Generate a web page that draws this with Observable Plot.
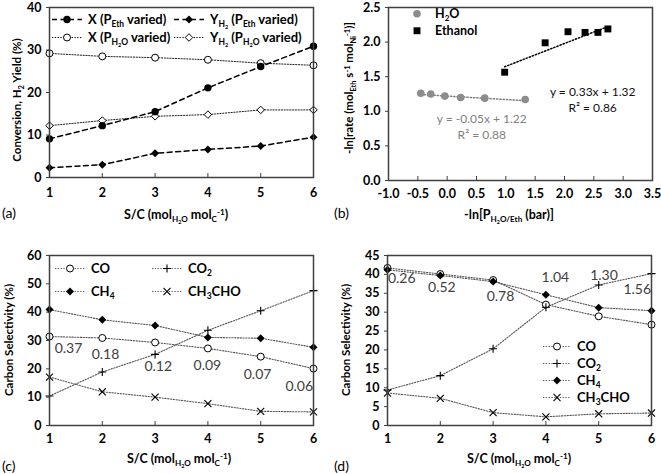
<!DOCTYPE html>
<html><head><meta charset="utf-8">
<script src="https://cdn.jsdelivr.net/npm/d3@7"></script>
<script src="https://cdn.jsdelivr.net/npm/@observablehq/plot@0.6"></script>
<style>
body{margin:0;background:#fff;}
#root{position:relative;width:661px;height:474px;background:#fff;font-family:Lato,"Open Sans",sans-serif;color:#000;overflow:hidden;}
.t{position:absolute;white-space:nowrap;transform:translate(-50%,-50%);font-weight:bold;font-size:12.5px;line-height:1;}
.rot{transform:translate(-50%,-50%) rotate(-90deg);}
.tag{position:absolute;transform:translate(0,-50%);font-size:14px;line-height:1;white-space:nowrap;}
sub,sup{font-size:65%;line-height:0;position:relative;vertical-align:baseline;}
sub{top:0.35em;} sup{top:-0.45em;}
.leg{position:absolute;display:flex;align-items:center;transform:translate(0,-50%);font-weight:bold;font-size:13px;white-space:nowrap;line-height:1;}
.leg svg{margin-right:6px;overflow:visible;}
</style></head><body><div id="root"></div>
<script>
// ---------- data ----------
const sc = [1, 2, 3, 4, 5, 6];
const scTicks = [1, 2, 3, 4, 5, 6];

// (a) conversion and H2 yield (%)
const convEth = [9.1, 12.2, 15.5, 21.1, 26.1, 30.9];
const yieldEth = [2.3, 3.0, 5.7, 6.6, 7.4, 9.5];
const convH2O = [29.2, 28.5, 28.2, 27.7, 26.9, 26.4];
const yieldH2O = [12.2, 13.4, 14.4, 14.8, 15.9, 15.9];
const aYTicks = [0, 10, 20, 30, 40];

// (b) -ln(rate) vs -ln(P)
const lnP_H2O = [-0.45, -0.28, -0.04, 0.23, 0.64, 1.33];
const lnRate_H2O = [1.26, 1.25, 1.22, 1.20, 1.19, 1.17];
const lnP_Eth = [0.98, 1.67, 2.06, 2.35, 2.57, 2.74];
const lnRate_Eth = [1.565, 1.99, 2.15, 2.14, 2.14, 2.19];
const fitH2O = [-0.05, 1.22];   // slope, intercept
const fitEth = [0.33, 1.32];
const eqH2OText = ["y = -0.05x + 1.22", "R² = 0.88"];
const eqH2OX = [0.59, 0.59];
const eqH2OY = [0.89, 0.65];
const eqEthText = ["y = 0.33x + 1.32", "R² = 0.86"];
const eqEthX = [2.48, 2.48];
const eqEthY = [1.27, 1.05];
const bXTicks = [-1, -0.5, 0, 0.5, 1, 1.5, 2, 2.5, 3, 3.5];
const bYTicks = [0, 0.5, 1, 1.5, 2, 2.5];

// (c) carbon selectivity (%)
const coC = [31.4, 30.9, 29.3, 27.2, 24.3, 20.1];
const co2C = [10.4, 18.9, 25.1, 33.6, 40.5, 47.6];
const ch4C = [40.9, 37.3, 35.3, 31.1, 30.8, 27.6];
const ch3choC = [17.1, 11.9, 10.0, 7.7, 5.0, 4.8];
const cLabels = ["0.37", "0.18", "0.12", "0.09", "0.07", "0.06"];
const cLabelX = [1.36, 2.06, 3.06, 3.99, 4.94, 5.73];
const cLabelY = [27.3, 24.9, 20.7, 21.0, 18.1, 13.9];
const cYTicks = [0, 10, 20, 30, 40, 50, 60];

// (d) carbon selectivity (%)
const coD = [41.7, 40.1, 38.5, 32.0, 28.9, 26.7];
const co2D = [9.4, 13.2, 20.3, 31.3, 37.2, 40.2];
const ch4D = [41.2, 39.7, 38.1, 34.6, 31.2, 30.4];
const ch3choD = [8.6, 7.2, 3.4, 2.3, 3.1, 3.3];
const dLabels = ["0.26", "0.52", "0.78", "1.04", "1.30", "1.56"];
const dLabelX = [1.27, 2.03, 3.14, 4.18, 5.10, 5.73];
const dLabelY = [39.0, 36.5, 34.2, 39.3, 39.6, 36.1];
const dYTicks = [0, 5, 10, 15, 20, 25, 30, 35, 40, 45];

// ---------- helpers ----------
const FONT = 'Lato, "Open Sans", sans-serif';
const AX = "#404040";
const root = document.getElementById("root");
const fmt1 = d => d.toFixed(1);
const fmt0 = d => String(d);

function panel({left, top, width, height, margin, x, y, marks}) {
  const [mt, mr, mb, ml] = margin;
  const ih = height - mt - mb;
  const p = Plot.plot({
    width, height, marginTop: mt, marginRight: mr, marginBottom: mb, marginLeft: ml,
    x: {domain: x.domain}, y: {domain: y.domain},
    style: {fontFamily: FONT, fontSize: "12px", background: "transparent", color: "#000", overflow: "visible"},
    marks: [
      Plot.axisY({ticks: y.ticks, tickFormat: y.fmt, tickSize: 3, tickPadding: 5, label: null, fontWeight: "bold", fontSize: 12.5, stroke: AX}),
      Plot.axisX({ticks: x.ticks, tickFormat: x.fmt, tickSize: 0, tickPadding: x.pad, label: null, fontWeight: "bold", fontSize: 12.5}),
      Plot.tickX(x.ticks, {x: d => d, insetTop: ih - 4, stroke: AX}),
      ...marks,
      Plot.frame({stroke: AX, strokeWidth: 1.5})
    ]
  });
  p.style.position = "absolute";
  p.style.left = left + "px";
  p.style.top = top + "px";
  root.appendChild(p);
}

const SYM = {circle: d3.symbolCircle, diamond2: d3.symbolDiamond2, plus: d3.symbolPlus, times: d3.symbolTimes, square: d3.symbolSquare};
function swatch({symbol, r, fill, stroke, sw = 1, dash, lineColor = "#000", lineWidth = 1, width = 30}) {
  const svg = d3.create("svg").attr("width", width).attr("height", 12);
  if (dash) svg.append("line").attr("x1", 0).attr("x2", width).attr("y1", 6).attr("y2", 6)
    .attr("stroke", lineColor).attr("stroke-width", lineWidth).attr("stroke-dasharray", dash);
  svg.append("path").attr("transform", `translate(${width / 2},6)`)
    .attr("d", d3.symbol(SYM[symbol], Math.PI * r * r)())
    .attr("fill", fill).attr("stroke", stroke || "none").attr("stroke-width", sw);
  return svg.node();
}
function legend(left, cy, sw, html, size) {
  const div = document.createElement("div");
  div.className = "leg";
  div.style.left = left + "px";
  div.style.top = cy + "px";
  if (size) div.style.fontSize = size + "px";
  div.appendChild(swatch(sw));
  const span = document.createElement("span");
  span.innerHTML = html;
  div.appendChild(span);
  root.appendChild(div);
}
function text(cls, cx, cy, html, extra) {
  const div = document.createElement("div");
  div.className = cls;
  div.style.left = cx + "px";
  div.style.top = cy + "px";
  div.innerHTML = html;
  if (extra) Object.assign(div.style, extra);
  root.appendChild(div);
}
function fitLine(xs, [a, b]) {
  const [x0, x1] = d3.extent(xs);
  return [{x: x0, y: a * x0 + b}, {x: x1, y: a * x1 + b}];
}

// ---------- styles ----------
const dashed = {stroke: "#000", strokeWidth: 1.5, strokeDasharray: "5,3.5"};
const dotted = {stroke: "#222", strokeWidth: 1, strokeDasharray: "1.3,1.5"};
const dottedG = {stroke: "#555", strokeWidth: 1.1, strokeDasharray: "1.3,1.5"};
const openCircle = {r: 3.5, fill: "white", stroke: "#000", strokeWidth: 1};
const fillCircle = {r: 3.7, fill: "#000"};
const fillDiamond = {symbol: "diamond2", r: 3.6, fill: "#000"};
const openDiamond = {symbol: "diamond2", r: 3.4, fill: "white", stroke: "#000", strokeWidth: 1};
const plusSym = {symbol: "plus", r: 2.7, fill: "none", stroke: "#000", strokeWidth: 1.1};
const timesSym = {symbol: "times", r: 3.3, fill: "none", stroke: "#000", strokeWidth: 1.1};

// ---------- (a) ----------
panel({
  left: 0, top: 0, width: 330, height: 200, margin: [7, 17, 23, 49],
  x: {domain: [1, 6], ticks: scTicks, fmt: fmt0, pad: 11},
  y: {domain: [0, 40], ticks: aYTicks, fmt: fmt0},
  marks: [
    Plot.line(sc, {x: sc, y: convH2O, ...dotted}),
    Plot.line(sc, {x: sc, y: yieldH2O, ...dotted}),
    Plot.line(sc, {x: sc, y: convEth, ...dashed}),
    Plot.line(sc, {x: sc, y: yieldEth, ...dashed}),
    Plot.dot(sc, {x: sc, y: convH2O, ...openCircle}),
    Plot.dot(sc, {x: sc, y: yieldH2O, ...openDiamond}),
    Plot.dot(sc, {x: sc, y: convEth, ...fillCircle}),
    Plot.dot(sc, {x: sc, y: yieldEth, ...fillDiamond})
  ]
});
legend(52, 19, {symbol: "circle", ...fillCircle, dash: "5,3.5", lineWidth: 1.5}, "X (P<sub>Eth</sub> varied)");
legend(174, 19, {symbol: "diamond2", r: 3.6, fill: "#000", dash: "5,3.5", lineWidth: 1.5}, "Y<sub>H<sub>2</sub></sub> (P<sub>Eth</sub> varied)");
legend(52, 37, {symbol: "circle", r: 3.5, fill: "white", stroke: "#000", dash: "1.3,1.5"}, "X (P<sub>H<sub>2</sub>O</sub> varied)");
legend(174, 37, {symbol: "diamond2", r: 3.4, fill: "white", stroke: "#000", dash: "1.3,1.5"}, "Y<sub>H<sub>2</sub></sub> (P<sub>H<sub>2</sub>O</sub> varied)");
text("t rot", 17, 100, "Conversion, H<sub>2</sub> Yield (%)", {fontSize: "11.5px"});
text("t", 176, 215, "S/C (mol<sub>H<sub>2</sub>O</sub> mol<sub>C</sub><sup>-1</sup>)");
text("tag", 2, 213, "(a)");

// ---------- (b) ----------
panel({
  left: 330, top: 0, width: 331, height: 200, margin: [7, 9, 20, 58],
  x: {domain: [-1, 3.5], ticks: bXTicks, fmt: fmt1, pad: 9},
  y: {domain: [0, 2.5], ticks: bYTicks, fmt: fmt1},
  marks: [
    Plot.line(fitLine(lnP_H2O, fitH2O), {x: "x", y: "y", stroke: "#7f7f7f", strokeWidth: 1.5, strokeDasharray: "1.3,2"}),
    Plot.line(fitLine(lnP_Eth, fitEth), {x: "x", y: "y", stroke: "#000", strokeWidth: 1.5, strokeDasharray: "1.3,2"}),
    Plot.dot(lnP_H2O, {x: lnP_H2O, y: lnRate_H2O, r: 3.8, fill: "#8c8c8c"}),
    Plot.dot(lnP_Eth, {x: lnP_Eth, y: lnRate_Eth, symbol: "square", r: 3.9, fill: "#000"}),
    Plot.text(eqH2OText, {x: eqH2OX, y: eqH2OY, text: eqH2OText, fill: "#808080", fontSize: 12}),
    Plot.text(eqEthText, {x: eqEthX, y: eqEthY, text: eqEthText, fill: "#111", fontSize: 12})
  ]
});
legend(405, 14, {symbol: "circle", r: 3.8, fill: "#8c8c8c", width: 24}, "H<sub>2</sub>O", 12.5);
legend(405, 31, {symbol: "square", r: 3.9, fill: "#000", width: 24}, "Ethanol", 12.5);
text("t rot", 349, 88, "-ln[rate (mol<sub>Eth</sub> s<sup>-1</sup> mol<sub>Ni</sub><sup>-1</sup>)]", {fontSize: "11.5px"});
text("t", 509, 215, "-ln[P<sub>H<sub>2</sub>O/Eth</sub> (bar)]");
text("tag", 334, 213, "(b)");

// ---------- (c) ----------
panel({
  left: 0, top: 237, width: 330, height: 210, margin: [18, 17, 22, 49],
  x: {domain: [1, 6], ticks: scTicks, fmt: fmt0, pad: 9},
  y: {domain: [0, 60], ticks: cYTicks, fmt: fmt0},
  marks: [
    Plot.line(sc, {x: sc, y: coC, ...dottedG}),
    Plot.line(sc, {x: sc, y: co2C, ...dottedG}),
    Plot.line(sc, {x: sc, y: ch4C, ...dottedG}),
    Plot.line(sc, {x: sc, y: ch3choC, ...dottedG}),
    Plot.dot(sc, {x: sc, y: coC, ...openCircle}),
    Plot.dot(sc, {x: sc, y: co2C, ...plusSym}),
    Plot.dot(sc, {x: sc, y: ch4C, ...fillDiamond}),
    Plot.dot(sc, {x: sc, y: ch3choC, ...timesSym}),
    Plot.text(cLabels, {x: cLabelX, y: cLabelY, text: cLabels, fill: "#404040", fontSize: 14})
  ]
});
legend(55, 268, {symbol: "circle", r: 3.5, fill: "white", stroke: "#000", dash: "1.3,1.5", lineColor: "#555"}, "CO");
legend(152, 268, {symbol: "plus", r: 2.7, fill: "none", stroke: "#000", sw: 1.1, dash: "1.3,1.5", lineColor: "#555"}, "CO<sub>2</sub>");
legend(55, 291, {symbol: "diamond2", r: 3.6, fill: "#000", dash: "1.3,1.5", lineColor: "#555"}, "CH<sub>4</sub>");
legend(152, 291, {symbol: "times", r: 3.3, fill: "none", stroke: "#000", sw: 1.1, dash: "1.3,1.5", lineColor: "#555"}, "CH<sub>3</sub>CHO");
text("t rot", 9, 340, "Carbon Selectivity (%)", {fontSize: "11.5px"});
text("t", 179, 459, "S/C (mol<sub>H<sub>2</sub>O</sub> mol<sub>C</sub><sup>-1</sup>)");
text("tag", 2, 466, "(c)");

// ---------- (d) ----------
panel({
  left: 330, top: 237, width: 331, height: 210, margin: [18, 10, 22, 57],
  x: {domain: [1, 6], ticks: scTicks, fmt: fmt0, pad: 9},
  y: {domain: [0, 45], ticks: dYTicks, fmt: fmt0},
  marks: [
    Plot.line(sc, {x: sc, y: coD, ...dottedG}),
    Plot.line(sc, {x: sc, y: co2D, ...dottedG}),
    Plot.line(sc, {x: sc, y: ch4D, ...dottedG}),
    Plot.line(sc, {x: sc, y: ch3choD, ...dottedG}),
    Plot.dot(sc, {x: sc, y: coD, ...openCircle}),
    Plot.dot(sc, {x: sc, y: co2D, ...plusSym}),
    Plot.dot(sc, {x: sc, y: ch4D, ...fillDiamond}),
    Plot.dot(sc, {x: sc, y: ch3choD, ...timesSym}),
    Plot.text(dLabels, {x: dLabelX, y: dLabelY, text: dLabels, fill: "#404040", fontSize: 14})
  ]
});
legend(543, 346, {symbol: "circle", r: 3.5, fill: "white", stroke: "#000", dash: "1.3,1.5", lineColor: "#555", width: 28}, "CO");
legend(543, 363, {symbol: "plus", r: 2.7, fill: "none", stroke: "#000", sw: 1.1, dash: "1.3,1.5", lineColor: "#555", width: 28}, "CO<sub>2</sub>");
legend(543, 380, {symbol: "diamond2", r: 3.6, fill: "#000", dash: "1.3,1.5", lineColor: "#555", width: 28}, "CH<sub>4</sub>");
legend(543, 397, {symbol: "times", r: 3.3, fill: "none", stroke: "#000", sw: 1.1, dash: "1.3,1.5", lineColor: "#555", width: 28}, "CH<sub>3</sub>CHO");
text("t rot", 346, 340, "Carbon Selectivity (%)", {fontSize: "11.5px"});
text("t", 519, 459, "S/C (mol<sub>H<sub>2</sub>O</sub> mol<sub>C</sub><sup>-1</sup>)");
text("tag", 334, 466, "(d)");
</script>
</body></html>
